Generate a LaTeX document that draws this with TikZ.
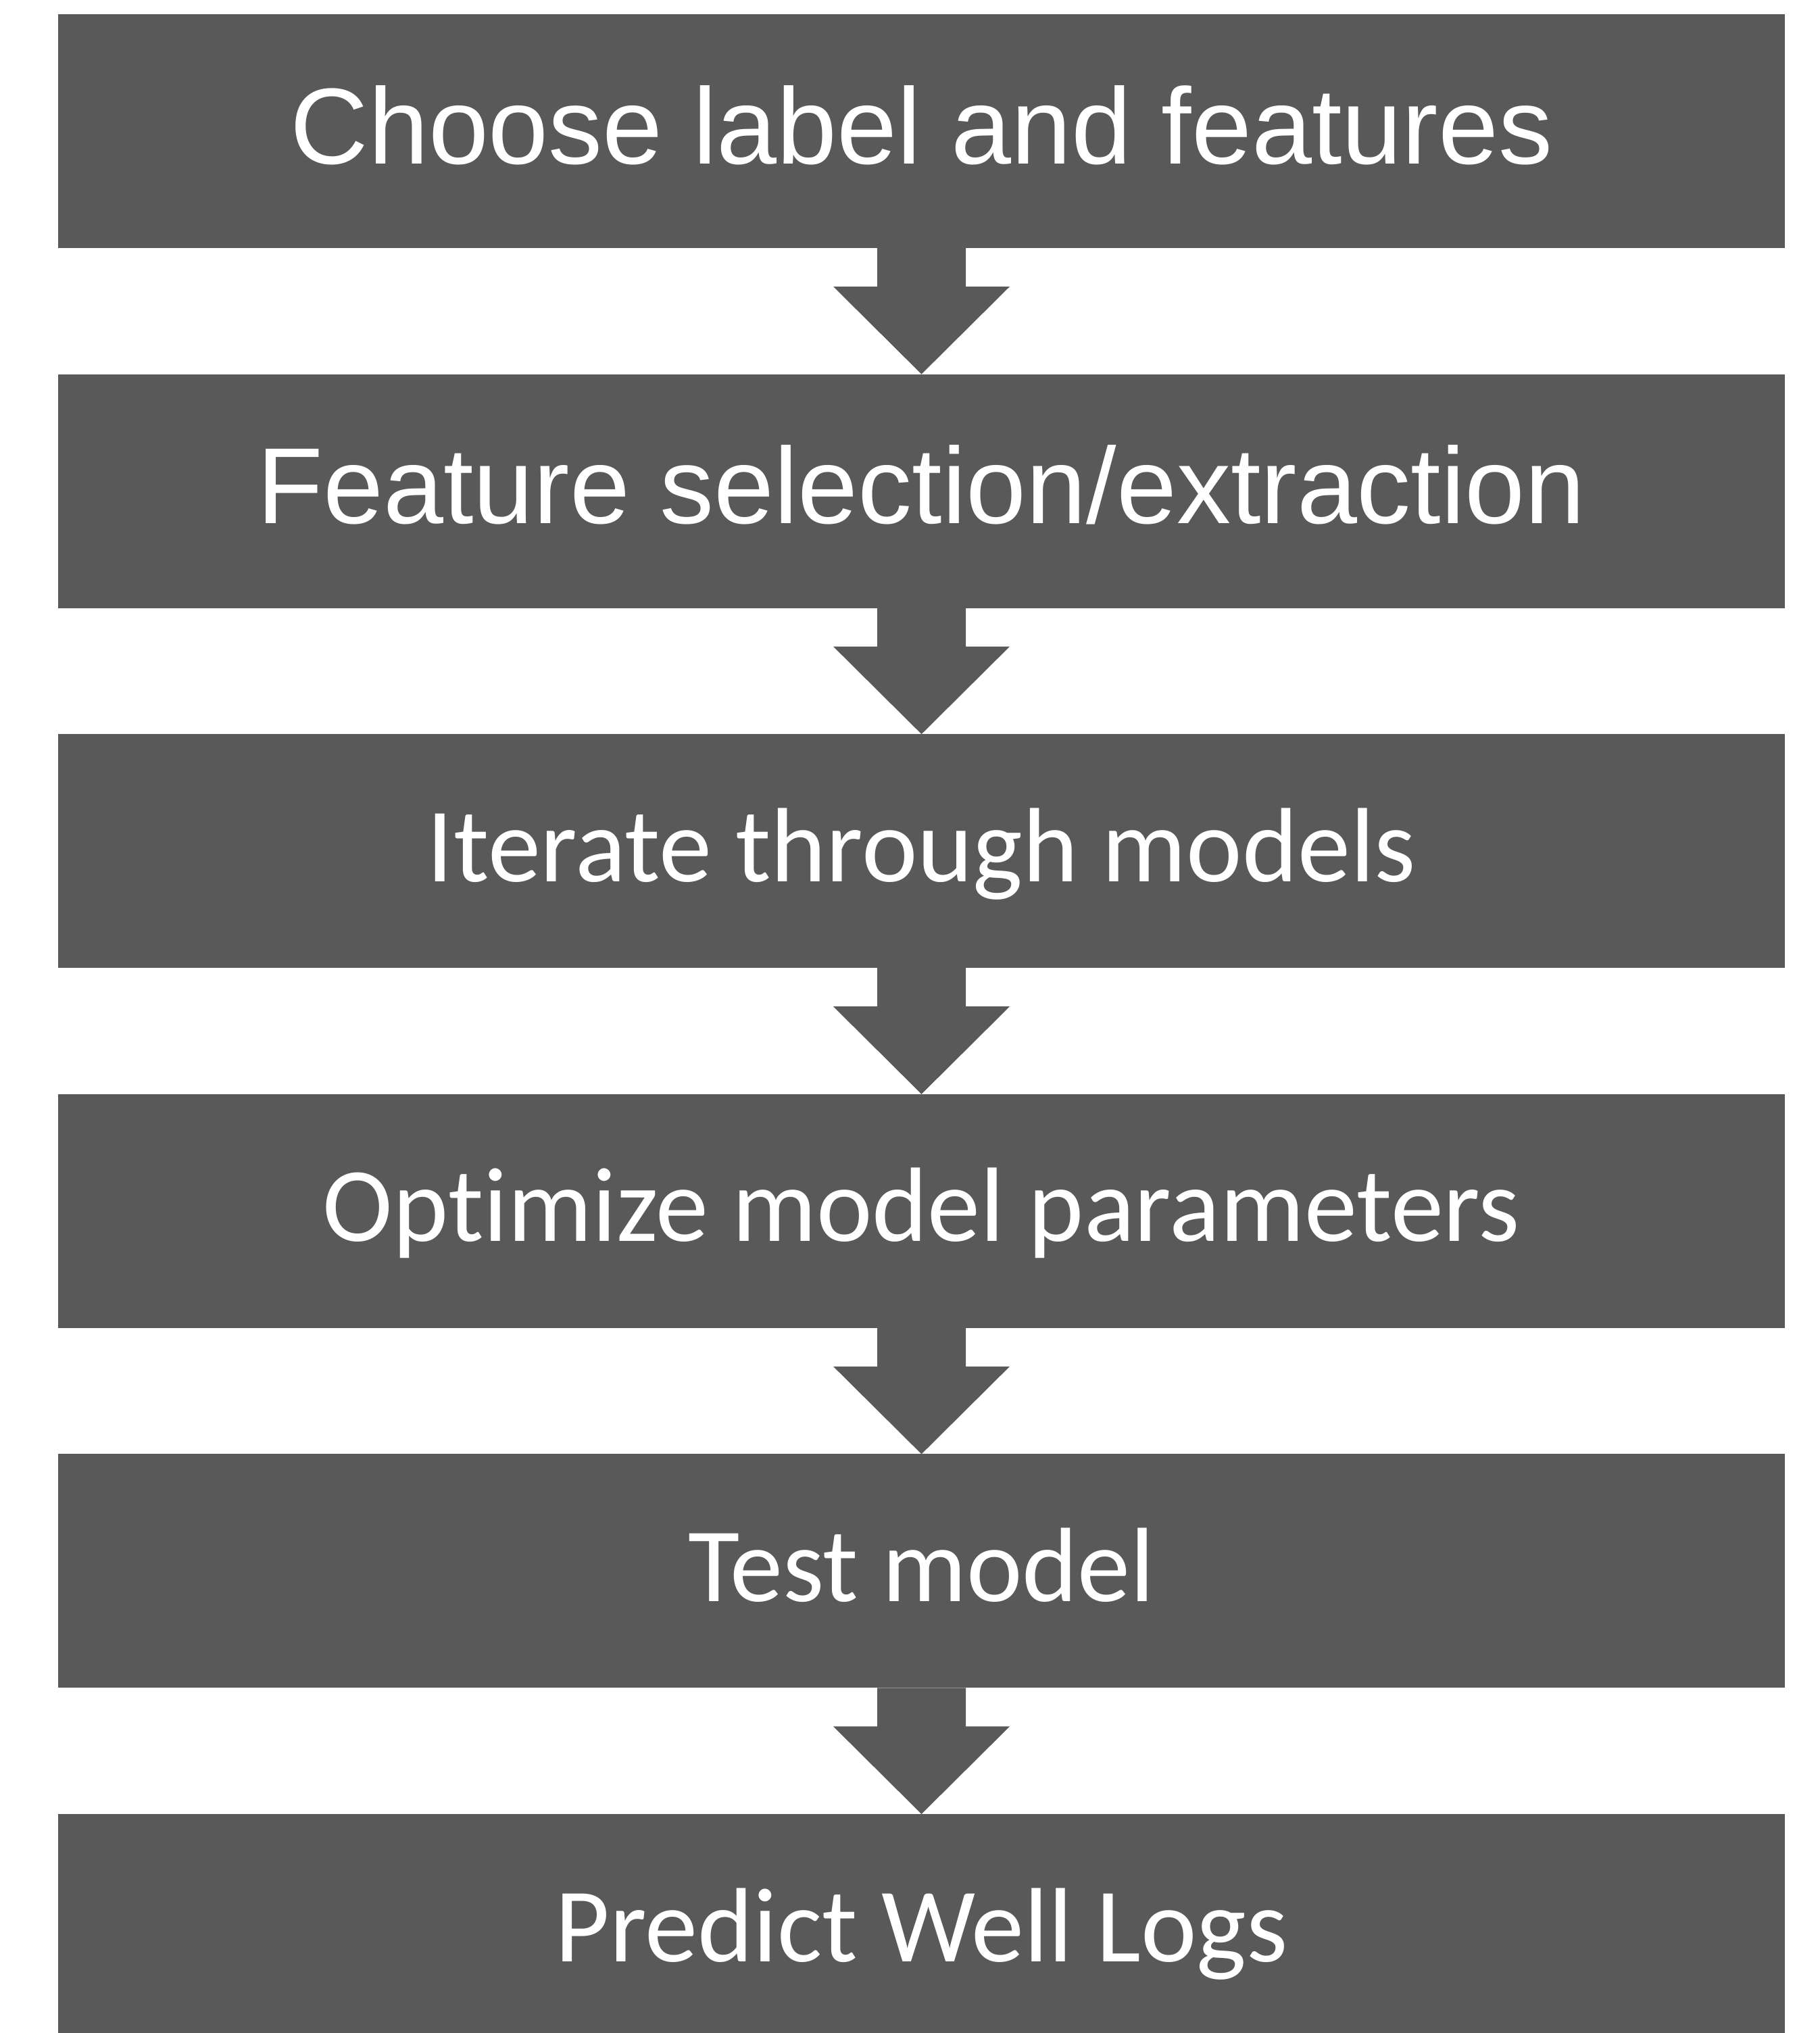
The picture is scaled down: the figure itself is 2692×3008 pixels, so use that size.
\documentclass[tikz,border=0pt]{standalone}
\usepackage{fontspec}
\setmainfont{Liberation Sans}
\newfontfamily\calibrifont[Ligatures={NoCommon}]{Carlito}
\usetikzlibrary{calc}
\definecolor{stepgray}{HTML}{595959}

\tikzset{
  stepbox/.style={fill=stepgray, draw=none, inner sep=0pt, outer sep=0pt,
    minimum width=638.75pt, minimum height=86.5pt, text=white, align=center},
  arialtext/.style={font=\fontsize{40pt}{48pt}\selectfont,
    text height=24pt, text depth=0pt},
  calibritext/.style={font=\calibrifont\fontsize{39.1pt}{46pt}\selectfont,
    text height=22.5pt, text depth=0pt},
  flowarrow/.style={fill=stepgray, draw=none}
}

\begin{document}
\begin{tikzpicture}[x=0.25pt, y=-0.25pt]
  \useasboundingbox (0,0) rectangle (2692,3008);
  \clip (0,0) rectangle (2692,3008);

  % process steps, top to bottom
  \node[stepbox, arialtext]   (b1) at (1363.5, 194.0)  {Choose label and features};
  \node[stepbox, arialtext]   (b2) at (1363.5, 726.6)  {Feature selection/extraction};
  \node[stepbox, calibritext] (b3) at (1363.5, 1259.2) {Iterate through models};
  \node[stepbox, calibritext] (b4) at (1363.5, 1791.8) {Optimize model parameters};
  \node[stepbox, calibritext] (b5) at (1363.5, 2324.4) {Test model};
  \node[stepbox, calibritext] (b6) at (1363.5, 2857.0) {Predict Well Logs};

  % block arrows between consecutive steps
  \foreach \a/\b in {b1/b2, b2/b3, b3/b4, b4/b5, b5/b6}{
    \fill[flowarrow]
      ($(\a.south)+(-65.5,0)$) -- ($(\a.south)+(-65.5,57)$)
      -- ($(\a.south)+(-130.5,57)$) -- (\b.north)
      -- ($(\a.south)+(130.5,57)$) -- ($(\a.south)+(65.5,57)$)
      -- ($(\a.south)+(65.5,0)$) -- cycle;
  }
\end{tikzpicture}
\end{document}
